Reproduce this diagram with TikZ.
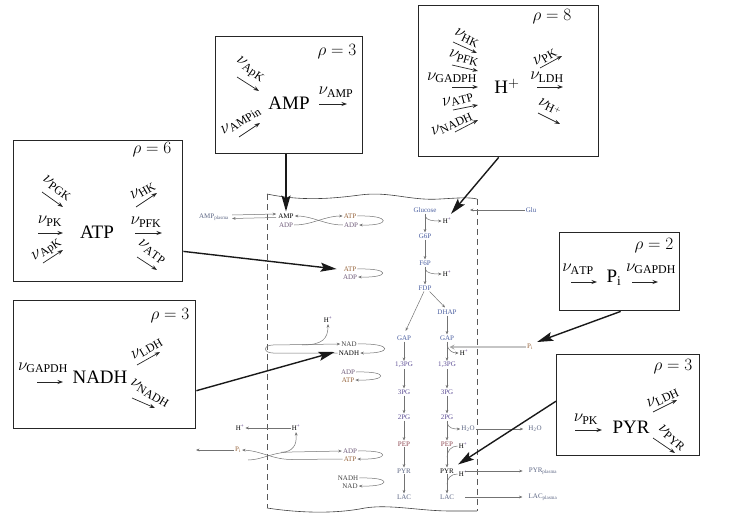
\documentclass[tikz,border=0pt]{standalone}
\usepackage{fontspec}
\setmainfont{Liberation Serif}
\usetikzlibrary{arrows.meta,calc}
\definecolor{cglc}{RGB}{75,95,160}
\definecolor{cpg}{RGB}{95,80,150}
\definecolor{cpep}{RGB}{140,70,80}
\definecolor{catp}{RGB}{150,100,60}
\definecolor{cadp}{RGB}{110,90,120}
\definecolor{cgr}{RGB}{90,100,130}
\definecolor{chp}{RGB}{70,40,120}
\newcommand\fa[3]{\coordinate (#1a) at (#2); \coordinate (#1b) at (#3); \draw[flx] (#1a) -- (#1b);}
\newcommand\hp{H\textsuperscript{\textcolor{chp}{+}}}
\begin{document}
\begin{tikzpicture}[x=1pt,y=-1pt,
 boxst/.style={draw=black!85, line width=1.4pt, inner sep=0pt, anchor=north west},
 big/.style={draw=black!90, line width=1.4pt, -{Stealth[length=16pt,width=9pt,inset=3pt]}},
 flx/.style={draw=black!85, line width=0.7pt, -{Stealth[length=5.5pt,width=4pt]}},
 nu/.style={font=\fontsize{17}{17}\selectfont, inner sep=0pt},
 metb/.style={font=\fontsize{19}{19}\selectfont, inner sep=0pt},
 rho/.style={font=\fontsize{17}{17}\selectfont, inner sep=0pt},
 met/.style={font=\fontsize{7}{7}\selectfont, inner sep=1pt},
 rx/.style={draw=black!55, line width=0.5pt, -{Stealth[length=3.5pt,width=2.8pt]}},
 rxn/.style={draw=black!55, line width=0.5pt},
 pix/.style={draw=black!35, line width=1.2pt, -{Stealth[length=5pt,width=5pt]}},
 cellw/.style={draw=black!75, line width=0.6pt},
 celld/.style={draw=black!65, line width=0.7pt, dash pattern=on 6pt off 4pt},
]
\useasboundingbox (0,0) rectangle (732,527);

% ---------- cell outline ----------
\draw[cellw] (267,194) .. controls (300,201) and (330,199) .. (360,195) .. controls (390,191) and (410,201) .. (440,199) .. controls (458,198) and (468,197) .. (477,199);
\draw[cellw] (267,508) .. controls (300,513) and (335,514) .. (365,508) .. controls (390,504) and (420,511) .. (450,511) .. controls (465,511) and (472,511) .. (477,511);
\draw[celld] (267,194) -- (267,508);
\draw[celld] (477,199) -- (477,511);

% ---------- cell metabolites ----------
\node[met, text=cgr] (amppl) at (214,217) {AMP\textsubscript{plasma}};
\node[met] (ampc) at (286,216) {AMP};
\node[met, text=cadp] (adpc) at (286,225) {ADP};
\node[met, text=catp] (atp1) at (350,216) {ATP};
\node[met, text=cadp] (adp1) at (351,225) {ADP};
\node[met, text=catp] (atp2) at (350,269) {ATP};
\node[met, text=cadp] (adp2) at (350,277) {ADP};
\node[met] (hpn) at (328,320) {\hp};
\node[met, text=black!75] (nad1) at (349,344) {NAD};
\node[met] (nadh1) at (349,353) {NADH};
\node[met, text=cadp] (adp3) at (348,372) {ADP};
\node[met, text=catp] (atp3) at (348,380) {ATP};
\node[met] (hpl) at (240,428) {\hp};
\node[met] (hpr) at (296,428) {\hp};
\node[met, text=catp] (pil) at (238,450) {P\textsubscript{i}};
\node[met, text=cadp] (adp4) at (350,451) {ADP};
\node[met, text=catp] (atp4) at (350,459) {ATP};
\node[met, text=black!75] (nadh2) at (348,478) {NADH};
\node[met, text=black!75] (nad2) at (350,486) {NAD};

\node[met, text=cglc] (glc) at (425,210) {Glucose};
\node[met] (hp1) at (447,221) {\hp};
\node[met, text=cglc] (g6p) at (425,236) {G6P};
\node[met, text=cglc] (f6p) at (425,263) {F6P};
\node[met] (hp2) at (447,274) {\hp};
\node[met, text=cglc] (fdp) at (425,288) {FDP};
\node[met, text=cglc] (gapl) at (404,338) {GAP};
\node[met, text=cglc] (dhap) at (447,312) {DHAP};
\node[met, text=cglc] (gapr) at (447,338) {GAP};
\node[met, text=cpg] (pg13l) at (404,365) {1,3PG};
\node[met, text=cpg] (pg13r) at (447,365) {1,3PG};
\node[met, text=cpg] (pg3l) at (404,392) {3PG};
\node[met, text=cpg] (pg3r) at (447,392) {3PG};
\node[met, text=cpg] (pg2l) at (404,417) {2PG};
\node[met, text=cpg] (pg2r) at (447,417) {2PG};
\node[met, text=cgr] (h2o) at (468,429) {H\textsubscript{2}O};
\node[met, text=cgr] (h2op) at (535,429) {H\textsubscript{2}O};
\node[met, text=cpep] (pepl) at (404,444) {PEP};
\node[met, text=cpep] (pepr) at (447,444) {PEP};
\node[met] (hp3) at (463,446) {\hp};
\node[met, text=cgr] (pyrl) at (404,471) {PYR};
\node[met] (pyrr) at (447,471) {PYR};
\node[met] (hp4) at (463,474) {\hp};
\node[met, text=cgr] (lacl) at (404,497) {LAC};
\node[met, text=cgr] (lacr) at (447,497) {LAC};
\node[met, text=cglc] (glu) at (531,210) {Glu};
\node[met, text=catp] (pi) at (530,347) {P\textsubscript{i}};
\node[met] (hp5) at (464,353) {\hp};
\node[met, text=cgr] (pyrp) at (543,471) {PYR\textsubscript{plasma}};
\node[met, text=cgr] (lacp) at (543,497) {LAC\textsubscript{plasma}};

\coordinate (gluend) at (470,210);
\coordinate (pilend) at (196,450);
\coordinate (nloopA) at (273,353);
\coordinate (nloopB) at (273,345);
\coordinate (hydA) at (248,460);

% ---------- cell reactions ----------
\draw[rx] ($(amppl.east)+(2,-2)$) -- ($(ampc.west)+(-1,-2)$);
\draw[rx] ($(ampc.west)+(-1,1.5)$) -- ($(amppl.east)+(2,1.5)$);
\draw[rx] (adp1.west) .. controls ($(adp1.west)+(-18,0)$) and ($(ampc.east)+(18,0)$) .. (ampc.east);
\draw[rx] (adpc.east) .. controls ($(adpc.east)+(18,0)$) and ($(atp1.west)+(-18,0)$) .. (atp1.west);
\draw[rx] (atp1.east) .. controls ($(atp1.east)+(34,-1)$) and ($(adp1.east)+(32,1)$) .. (adp1.east);
\draw[rx] (atp2.east) .. controls ($(atp2.east)+(34,-1)$) and ($(adp2.east)+(32,1)$) .. (adp2.east);
\draw[rx] (nad1.east) .. controls ($(nad1.east)+(36,-1)$) and ($(nadh1.east)+(32,1)$) .. (nadh1.east);
\draw[rx] (adp3.east) .. controls ($(adp3.east)+(34,-1)$) and ($(atp3.east)+(32,1)$) .. (atp3.east);
\draw[rx] (adp4.east) .. controls ($(adp4.east)+(34,-1)$) and ($(atp4.east)+(32,1)$) .. (atp4.east);
\draw[rx] (nadh2.east) .. controls ($(nadh2.east)+(34,-1)$) and ($(nad2.east)+(32,1)$) .. (nad2.east);
\draw[rx] (nadh1.west) -- (nloopA) .. controls ($(nloopA)+(-10,0)$) and ($(nloopB)+(-10,0)$) .. (nloopB) -- (nad1.west);
\draw[rx] (302,345) .. controls (322,345) and (328,339) .. (hpn.south);
% ATP hydrolysis
\draw[rx] (atp4.west) -- (292,459.5) .. controls (272,459.5) and (262,451) .. (pil.east);
\draw[rx] (hydA) .. controls (262,460) and (272,452) .. (292,452) -- (adp4.west);
\draw[rx] (281,452.3) .. controls (293,452) and (297,445) .. (hpr.south);
\draw[rx] (hpr.west) -- (hpl.east);
\draw[rx] (pil.west) -- (pilend);

% glycolysis
\draw[rx] (glu.west) -- (gluend);
\draw[rx] (glc.south) -- (g6p.north);
\draw[rx] ($(glc.south)+(0,2)$) .. controls ($(glc.south)+(1,7)$) and ($(hp1.west)+(-8,0)$) .. (hp1.west);
\draw[rx] (g6p.south) -- (f6p.north);
\draw[rx] (f6p.south) -- (fdp.north);
\draw[rx] ($(f6p.south)+(0,2)$) .. controls ($(f6p.south)+(1,7)$) and ($(hp2.west)+(-8,0)$) .. (hp2.west);
\draw[rx, shorten >=4pt] ($(fdp.south)+(-1,0)$) -- (gapl.north);
\draw[rx] ($(fdp.south east)+(-3,0)$) -- ($(dhap.north)+(-2,-1)$);
\draw[rx] (dhap.south) -- (gapr.north);
\draw[rx] (gapl.south) -- (pg13l.north);
\draw[rx] (gapr.south) -- (pg13r.north);
\draw[rx] ($(gapr.south)+(0,3)$) .. controls ($(gapr.south)+(1,9)$) and ($(hp5.west)+(-6,0)$) .. (hp5.west);
\draw[pix] (pi.west) -- ($(gapr.south)+(2.5,5.5)$);
\draw[rx] (pg13l.south) -- (pg3l.north);
\draw[rx] (pg13r.south) -- (pg3r.north);
\draw[rx] (pg3l.south) -- (pg2l.north);
\draw[rx] (pg3r.south) -- (pg2r.north);
\draw[rx] (pg2l.south) -- (pepl.north);
\draw[rx] (pg2r.south) -- (pepr.north);
\draw[rx] ($(pg2r.south)+(0,2)$) .. controls ($(pg2r.south)+(1,8)$) and ($(h2o.west)+(-6,0)$) .. (h2o.west);
\draw[rx, shorten >=4pt] (h2o.east) -- (h2op.west);
\draw[rx] (pepl.south) -- (pyrl.north);
\draw[rx] (pepr.south) -- (pyrr.north);
\draw[rxn] (hp3.west) .. controls ($(hp3.west)+(-7,0)$) and ($(pepr.south)+(0,4)$) .. ($(pepr.south)+(0,10)$);
\draw[rx] (pyrl.south) -- (lacl.north);
\draw[rx] (pyrr.south) -- (lacr.north);
\draw[rxn] (hp4.west) .. controls ($(hp4.west)+(-7,0)$) and ($(pyrr.south)+(0,4)$) .. ($(pyrr.south)+(0,10)$);
\draw[rx, shorten <=10pt, shorten >=5pt] (pyrr.east) -- (pyrp.west);
\draw[rx, shorten <=10pt, shorten >=5pt] (lacr.east) -- (lacp.west);

% ---------- boxes ----------
\node[boxst, minimum width=169pt, minimum height=141pt] (bATP) at (13,140) {};
\node[boxst, minimum width=147pt, minimum height=117pt] (bAMP) at (215,36) {};
\node[boxst, minimum width=180pt, minimum height=151pt] (bH) at (418,5) {};
\node[boxst, minimum width=182pt, minimum height=128pt] (bNADH) at (13,300) {};
\node[boxst, minimum width=120pt, minimum height=78pt] (bPi) at (559,232) {};
\node[boxst, minimum width=143pt, minimum height=101pt] (bPYR) at (556,354) {};

% ATP box
\node[rho] (r6) at (152,150) {$\rho = 6$};
\node[nu, rotate=-35] (n11) at (57,188) {$\nu_{\mathrm{PGK}}$};
\fa{f11}{42,192}{63,207}
\node[nu] (n12) at (50,221) {$\nu_{\mathrm{PK}}$};
\fa{f12}{38,233}{63,233}
\node[nu, rotate=35] (n13) at (47,250) {$\nu_{\mathrm{ApK}}$};
\fa{f13}{43,263}{63,250}
\node[metb] (tATP) at (97,232) {ATP};
\node[nu, rotate=30] (n14) at (143,191) {$\nu_{\mathrm{HK}}$};
\fa{f14}{136,207}{157,193}
\node[nu] (n15) at (146,222) {$\nu_{\mathrm{PFK}}$};
\fa{f15}{135,233}{162,233}
\node[nu, rotate=-35] (n16) at (152,252) {$\nu_{\mathrm{ATP}}$};
\fa{f16}{137,257}{157,270}

% AMP box
\node[rho] (r3a) at (337,52) {$\rho = 3$};
\node[nu, rotate=-35] (n21) at (250,70) {$\nu_{\mathrm{ApK}}$};
\fa{f21}{237,77}{259,91}
\node[nu, rotate=32] (n22) at (241,121) {$\nu_{\mathrm{AMPin}}$};
\fa{f22}{239,137}{260,123}
\node[metb] (tAMP) at (289,103) {AMP};
\node[nu] (n23) at (336,92) {$\nu_{\mathrm{AMP}}$};
\fa{f23}{319,104}{347,104}

% H+ box
\node[rho] (r8) at (552,17) {$\rho = 8$};
\node[nu, rotate=-25] (n31) at (467,38) {$\nu_{\mathrm{HK}}$};
\fa{f31}{453,42}{477,53}
\node[nu, rotate=-15] (n32) at (464,58) {$\nu_{\mathrm{PFK}}$};
\fa{f32}{452,65}{478,71}
\node[nu] (n33) at (452,78) {$\nu_{\mathrm{GADPH}}$};
\fa{f33}{452,87}{478,87}
\node[nu, rotate=15] (n34) at (458,100) {$\nu_{\mathrm{ATP}}$};
\fa{f34}{453,110}{478,105}
\node[nu, rotate=25] (n35) at (452,124) {$\nu_{\mathrm{NADH}}$};
\fa{f35}{455,132}{478,120}
\node[metb] (tH) at (507,86) {H$^{+}$};
\node[nu, rotate=30] (n36) at (545,57) {$\nu_{\mathrm{PK}}$};
\fa{f36}{540,68}{562,56}
\node[nu] (n37) at (547,77) {$\nu_{\mathrm{LDH}}$};
\fa{f37}{537,87}{563,87}
\node[nu, rotate=-25] (n38) at (550,107) {$\nu_{\mathrm{H}^{+}}$};
\fa{f38}{538,113}{560,124}

% NADH box
\node[rho] (r3b) at (170,316) {$\rho = 3$};
\node[nu] (n41) at (43,368) {$\nu_{\mathrm{GAPDH}}$};
\fa{f41}{37,382}{63,382}
\node[metb] (tNADH) at (100,377) {NADH};
\node[nu, rotate=30] (n42) at (147,349) {$\nu_{\mathrm{LDH}}$};
\fa{f42}{137,365}{160,352}
\node[nu, rotate=-30] (n43) at (150,393) {$\nu_{\mathrm{NADH}}$};
\fa{f43}{132,398}{155,408}

% Pi box
\node[rho] (r2) at (654,246) {$\rho = 2$};
\node[nu] (n51) at (578,269) {$\nu_{\mathrm{ATP}}$};
\fa{f51}{571,282}{597,282}
\node[metb] (tPi) at (614,278) {P$_{\mathrm{i}}$};
\node[nu] (n52) at (651,269) {$\nu_{\mathrm{GAPDH}}$};
\fa{f52}{632,282}{658,282}

% PYR box
\node[rho] (r3c) at (673,367) {$\rho = 3$};
\node[nu] (n61) at (586,419) {$\nu_{\mathrm{PK}}$};
\fa{f61}{575,430}{602,430}
\node[metb] (tPYR) at (631,427) {PYR};
\node[nu, rotate=25] (n62) at (663,398) {$\nu_{\mathrm{LDH}}$};
\fa{f62}{653,412}{677,400}
\node[nu, rotate=-40] (n63) at (672,438) {$\nu_{\mathrm{PYR}}$};
\fa{f63}{653,438}{675,453}

% ---------- big connectors ----------
\draw[big] (bAMP.south -| ampc.north) -- ($(ampc.north)+(0,-1)$);
\draw[big] ($(bH.south)+(-10,0)$) -- ($(hp1.north)+(4,-3)$);
\draw[big] ($(bATP.south east)+(0,-31)$) -- ($(atp2.west)+(-6,0)$);
\draw[big] ($(bNADH.east)+(0,26)$) -- ($(nadh1.west)+(-3,-1)$);
\draw[big] ($(bPi.south)+(1,0)$) -- ($(pi.north east)+(3,-1)$);
\draw[big] ($(bPYR.west)+(0,-4)$) -- ($(pyrr.north east)+(3,-3)$);
\end{tikzpicture}
\end{document}
